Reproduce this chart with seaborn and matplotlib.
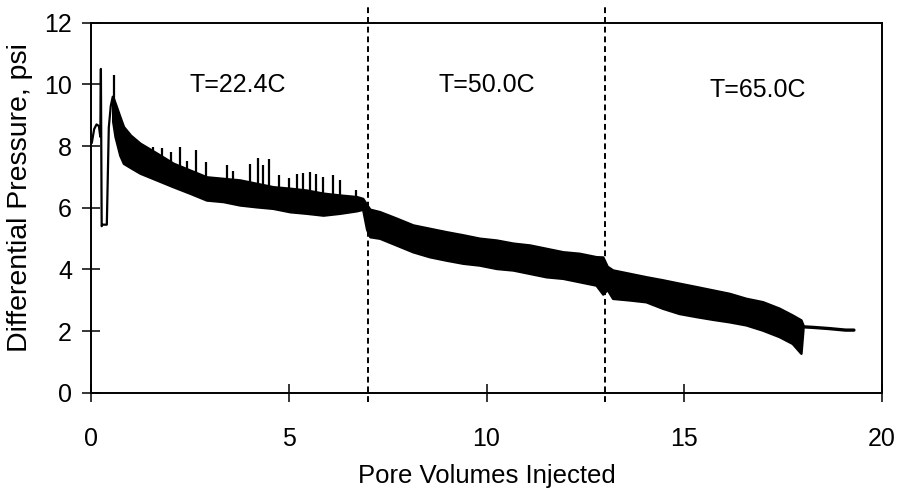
import matplotlib
matplotlib.use("Agg")
import matplotlib.pyplot as plt
import seaborn as sns
import pandas as pd

# ---- data ----
# initial transient (single trace)
init_x = [0.02, 0.08, 0.14, 0.20, 0.235, 0.25, 0.27, 0.29, 0.40, 0.45, 0.50, 0.55]
init_y = [8.1, 8.55, 8.7, 8.65, 8.3, 10.5, 5.4, 5.45, 5.45, 8.6, 9.3, 9.6]

# dense noisy band: lower / upper envelope
band_x = [0.55, 0.61, 0.73, 0.82, 1.0, 1.24, 1.66, 2.08, 2.5, 2.92, 3.34, 3.76,
          4.18, 4.6, 5.03, 5.45, 5.87, 6.29, 6.71, 6.87, 6.97, 7.05, 7.3, 7.72,
          8.14, 8.56, 8.98, 9.4, 9.82, 10.25, 10.67, 11.09, 11.51, 11.93, 12.35,
          12.77, 12.94, 13.05, 13.19, 13.61, 14.03, 14.45, 14.87, 15.3, 15.72,
          16.14, 16.56, 16.98, 17.4, 17.73, 17.95, 18.0]
band_upper = [9.6, 9.39, 8.95, 8.63, 8.35, 8.09, 7.77, 7.44, 7.22, 7.0, 6.95, 6.9,
              6.79, 6.68, 6.63, 6.57, 6.47, 6.41, 6.36, 6.3, 6.1, 5.95, 5.87, 5.66,
              5.44, 5.33, 5.22, 5.12, 5.01, 4.95, 4.85, 4.79, 4.68, 4.57, 4.52,
              4.41, 4.4, 4.1, 3.98, 3.87, 3.76, 3.66, 3.55, 3.44, 3.33,
              3.22, 3.06, 2.95, 2.74, 2.52, 2.36, 2.2]
band_lower = [8.8, 8.3, 7.7, 7.44, 7.3, 7.12, 6.9, 6.68, 6.47, 6.25, 6.2, 6.09,
              6.03, 5.98, 5.87, 5.82, 5.76, 5.82, 5.9, 5.95, 5.3, 5.06, 5.01, 4.79,
              4.57, 4.41, 4.3, 4.2, 4.14, 4.03, 3.98, 3.87, 3.76, 3.71, 3.6,
              3.49, 3.2, 3.35, 3.06, 3.01, 2.95, 2.74, 2.57, 2.47, 2.38,
              2.3, 2.2, 2.03, 1.82, 1.6, 1.28, 2.05]

# upward spikes above the band
spike_x = [0.57, 1.57, 1.79, 2.02, 2.24, 2.43, 2.66, 2.92, 3.43, 3.6, 4.02, 4.22,
           4.35, 4.5, 4.75, 5.0, 5.2, 5.36, 5.53, 5.7, 5.87, 6.12, 6.3, 6.71]
spike_top = [10.3, 7.97, 7.93, 7.82, 7.98, 7.5, 7.87, 7.47, 7.39, 7.2, 7.42, 7.6,
             7.4, 7.58, 7.05, 6.95, 7.1, 7.12, 7.17, 7.1, 7.0, 7.06, 6.9, 6.57]
spike_base = [9.4, 7.7, 7.6, 7.4, 7.3, 7.2, 7.1, 7.0, 6.9, 6.9, 6.8, 6.8,
              6.7, 6.7, 6.65, 6.6, 6.6, 6.55, 6.5, 6.5, 6.45, 6.4, 6.4, 6.35]

# smooth tail after the noise ends
tail_x = [17.95, 18.24, 18.66, 19.08, 19.29]
tail_y = [2.14, 2.12, 2.08, 2.03, 2.03]

# temperature stages
stage_bounds = [7, 13]
stage_labels = ["T=22.4C", "T=50.0C", "T=65.0C"]
stage_label_x = [3.70, 10.0, 16.86]
stage_label_y = [9.76, 9.75, 9.59]

x_ticks = [0, 5, 10, 15, 20]
y_ticks = [0, 2, 4, 6, 8, 10, 12]

# ---- plotting ----
sns.set_style("ticks")
plt.rcParams["font.family"] = ["Liberation Sans", "DejaVu Sans"]

fig = plt.figure(figsize=(9.04, 5.0), dpi=100)
ax = fig.add_axes([91 / 904, 1 - 392.7 / 500, 791 / 904, 370 / 500])

init_df = pd.DataFrame({"x": init_x, "y": init_y})
sns.lineplot(data=init_df, x="x", y="y", ax=ax, color="black", lw=1.6,
             sort=False, estimator=None)

ax.fill_between(band_x, band_lower, band_upper, color="black",
                edgecolor="black", lw=1.8)
ax.vlines(spike_x, spike_base, spike_top, color="black", lw=1.6)

tail_df = pd.DataFrame({"x": tail_x, "y": tail_y})
sns.lineplot(data=tail_df, x="x", y="y", ax=ax, color="black", lw=2.4,
             sort=False, estimator=None)

for xb in stage_bounds:
    ax.plot([xb, xb], [-0.3, 12.5], color="black", lw=1.4,
            dashes=(3, 2), clip_on=False)

for lab, lx, ly in zip(stage_labels, stage_label_x, stage_label_y):
    ax.text(lx, ly, lab, fontsize=18, ha="center", va="baseline", color="black")

ax.set_xlim(0, 20)
ax.set_ylim(0, 12)
ax.set_xticks(x_ticks)
ax.set_yticks(y_ticks)
ax.tick_params(axis="both", direction="inout", length=13, width=1.1,
               color="black", labelsize=18, labelcolor="black")
ax.tick_params(axis="x", pad=18.5)
ax.tick_params(axis="y", pad=7.2)

for sp in ax.spines.values():
    sp.set_visible(True)
    sp.set_color("black")
    sp.set_linewidth(1.4)

ax.set_xlabel("Pore Volumes Injected", fontsize=18.5, color="black")
ax.set_ylabel("Differential Pressure, psi", fontsize=20.5, color="black")
ax.xaxis.set_label_coords(487 / 904, 1 - 476 / 500, transform=fig.transFigure)
ax.xaxis.label.set_va("center")
ax.yaxis.set_label_coords(20 / 904, 1 - 198 / 500, transform=fig.transFigure)
ax.yaxis.label.set_va("center")
ax.yaxis.label.set_ha("center")
ax.grid(False)

fig.savefig("out.png", dpi=100)
